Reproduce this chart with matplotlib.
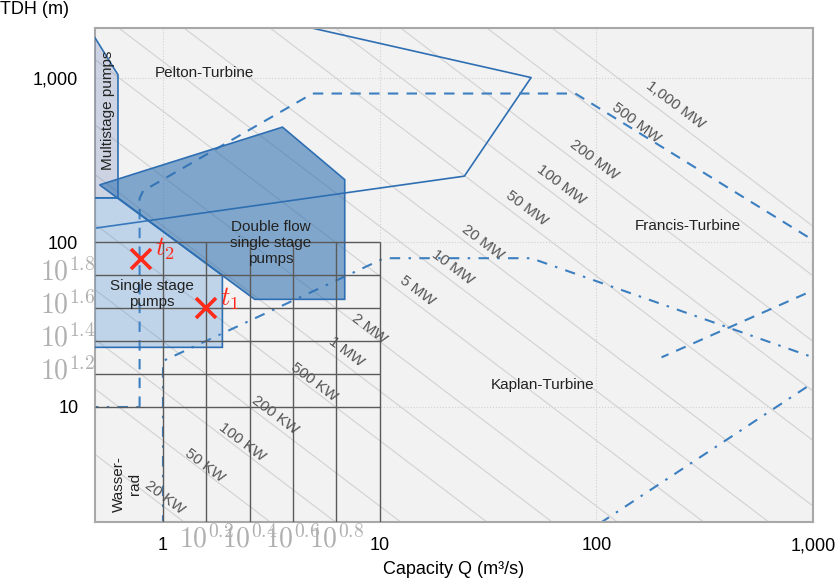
import numpy as np
import matplotlib.pyplot as plt
from matplotlib.ticker import FixedLocator, FixedFormatter
from matplotlib.transforms import ScaledTranslation

plt.rcParams['font.family'] = ['Liberation Sans', 'DejaVu Sans']
plt.rcParams['mathtext.fontset'] = 'cm'

# iso-power lines, P [kW] ~ 8 * Q * H
power_kw = [20, 50, 100, 200, 500, 1000, 2000, 5000, 10000, 20000,
            50000, 100000, 200000, 500000, 1000000]
power_text = ['20 KW', '50 KW', '100 KW', '200 KW', '500 KW', '1 MW', '2 MW',
              '5 MW', '10 MW', '20 MW', '50 MW', '100 MW', '200 MW', '500 MW',
              '1,000 MW']
label_q = [1.02, 1.56, 2.31, 3.28, 5.0, 7.05, 9.0, 15, 21.7, 29.8, 47.6, 69, 98, 153, 231]
label_h = [2.83, 4.42, 6.1, 8.9, 14.2, 21.5, 30, 51, 70.6, 100, 161, 223, 316, 531, 682]
kw_per_qh = 8.0

# turbine regions (outlines)
pelton_q = [0.45, 24.6, 50, 1.3]
pelton_h = [120, 252, 1000, 2960]
francis_q = [0.78, 0.78, 0.81, 4.9, 80, 1000, 1000, 200]
francis_h = [10, 185, 205, 800, 800, 103, 51, 20]
kaplan_q = [1, 1, 10.5, 50, 1000, 1000, 106]
kaplan_h = [1.9, 19, 80, 80, 20, 14, 2.0]
wasser_q = [0.45, 0.78]
wasser_h = [10, 10]

# pump regions (filled)
multi_q = [0.45, 0.62, 0.62, 0.45]
multi_h = [2050, 1040, 186, 186]
single_q = [0.45, 0.62, 1.88, 1.88, 0.45]
single_h = [186, 186, 63, 23, 23]
double_q = [0.51, 3.56, 6.9, 6.9, 2.65]
double_h = [223, 500, 240, 45, 45]

# overlay grid
grid_q = [1, 10**0.2, 10**0.4, 10**0.6, 10**0.8, 10]
grid_h = [10, 10**1.2, 10**1.4, 10**1.6, 10**1.8, 100]

# test points
pts_q = [10**0.2, 10**-0.1]
pts_h = [10**1.6, 10**1.9]
pts_name = [r'$t_1$', r'$t_2$']

xmin, xmax = 0.4856, 1000
ymin, ymax = 2, 2000

fig = plt.figure(figsize=(8.4, 5.87), dpi=100)
ax = fig.add_axes([95/840, 65/587, 718/840, 494/587])
ax.set_xscale('log')
ax.set_yscale('log')
ax.set_xlim(xmin, xmax)
ax.set_ylim(ymin, ymax)
ax.set_facecolor('#f2f2f2')

# faint decade grid
for q in [1, 10, 100]:
    ax.axvline(q, color='#d2d2d2', lw=0.8, ls=':', zorder=0.5)
for h in [10, 100, 1000]:
    ax.axhline(h, color='#d2d2d2', lw=0.8, ls=':', zorder=0.5)

# power lines
q_line = np.array([0.3, 1500])
for p in power_kw:
    ax.plot(q_line, p / (kw_per_qh * q_line), color='#d3d3d3', lw=0.85, zorder=1)
for t, q, h in zip(power_text, label_q, label_h):
    ax.text(q, h, t, rotation=-37, ha='center', va='center', fontsize=11,
            color='#555555', rotation_mode='anchor', zorder=5)

blue = '#2e6fb3'
ax.plot(pelton_q, pelton_h, color=blue, lw=1.2, zorder=2)
ax.plot(francis_q, francis_h, color='#3c7fc0', lw=1.5, ls=(0, (5, 4)), zorder=2)
ax.plot(kaplan_q, kaplan_h, color='#3c7fc0', lw=1.5, ls=(0, (5, 4, 1.2, 4)), zorder=2)
ax.plot(wasser_q, wasser_h, color='#3c7fc0', lw=1.5, ls=(0, (5, 4, 1.2, 4)), zorder=2)

ax.fill(multi_q, multi_h, facecolor='#3b5ba5', alpha=0.2, zorder=3)
ax.fill(multi_q, multi_h, facecolor='none', edgecolor=blue, lw=1.2, zorder=3)
ax.fill(single_q, single_h, facecolor='#4d8fd6', alpha=0.3, zorder=3)
ax.fill(single_q, single_h, facecolor='none', edgecolor=blue, lw=1.2, zorder=3)
ax.fill(double_q, double_h, facecolor='#2f6fb0', alpha=0.58, zorder=3)
ax.fill(double_q, double_h, facecolor='none', edgecolor=blue, lw=1.2, zorder=3)

# dark overlay grid
ax.vlines(grid_q, ymin, 100, color='#5a5a5a', lw=1.0, zorder=4)
ax.hlines(grid_h, xmin, 10, color='#5a5a5a', lw=1.0, zorder=4)

# region labels
txt = dict(fontsize=11, color='#222222', zorder=5)
ax.text(0.918, 1070, 'Pelton-Turbine', ha='left', va='center', **txt)
ax.text(0.56, 636, 'Multistage pumps', rotation=90, ha='center', va='center', **txt)
ax.text(3.15, 99, 'Double flow\nsingle stage\npumps', ha='center', va='center',
        linespacing=1.15, **txt)
ax.text(0.89, 48.4, 'Single stage\npumps', ha='center', va='center',
        linespacing=1.15, **txt)
ax.text(265, 125, 'Francis-Turbine', ha='center', va='center', **txt)
ax.text(56.4, 13.6, 'Kaplan-Turbine', ha='center', va='center', **txt)
ax.text(0.683, 3.39, 'Wasser-\nrad', rotation=90, ha='center', va='center',
        linespacing=1.15, **txt)

# test points
ax.plot(pts_q, pts_h, ls='none', marker='x', ms=14, mew=2.6, color='#ff2a1a', zorder=6)
for q, h, n in zip(pts_q, pts_h, pts_name):
    ax.annotate(n, (q, h), xytext=(10, 7), textcoords='offset points',
                fontsize=19, color='#ff2a1a', va='center', zorder=6)

# ticks
ax.xaxis.set_major_locator(FixedLocator([1, 10, 100, 1000]))
ax.xaxis.set_major_formatter(FixedFormatter(['1', '10', '100', '1,000']))
ax.xaxis.set_minor_locator(FixedLocator(grid_q[1:5]))
ax.xaxis.set_minor_formatter(FixedFormatter([r'$10^{0.2}$', r'$10^{0.4}$',
                                             r'$10^{0.6}$', r'$10^{0.8}$']))
ax.yaxis.set_major_locator(FixedLocator([10, 100, 1000]))
ax.yaxis.set_major_formatter(FixedFormatter(['10', '100', '1,000']))
ax.yaxis.set_minor_locator(FixedLocator(grid_h[1:5]))
ax.yaxis.set_minor_formatter(FixedFormatter([r'$10^{1.2}$', r'$10^{1.4}$',
                                             r'$10^{1.6}$', r'$10^{1.8}$']))
ax.tick_params(which='major', length=0, labelsize=13, colors='black')
ax.tick_params(which='minor', length=0, labelsize=20, labelcolor='#b0b0b0')
ax.tick_params(axis='x', which='major', pad=11)
ax.tick_params(axis='x', which='minor', pad=2)
ax.tick_params(axis='y', which='major', pad=12)
ax.tick_params(axis='y', which='minor', pad=0)

# lift the grey y labels a little
shift = ScaledTranslation(0, 0.06, fig.dpi_scale_trans)
for tick in ax.yaxis.get_minor_ticks():
    tick.label1.set_transform(tick.label1.get_transform() + shift)

for s in ax.spines.values():
    s.set_color('#a8a8a8')
    s.set_linewidth(1.5)

ax.set_xlabel('Capacity Q (m³/s)', fontsize=13, labelpad=5)
fig.text(0.0, 1 - 9/587, 'TDH (m)', fontsize=13, ha='left', va='center')

fig.savefig('out.png', dpi=100)
